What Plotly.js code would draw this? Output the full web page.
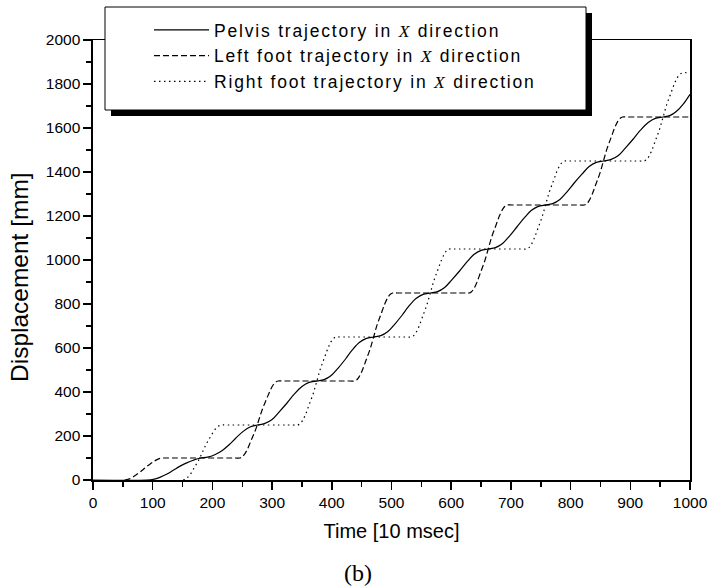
<!DOCTYPE html>
<html>
<head>
<meta charset="utf-8">
<script src="https://cdn.plot.ly/plotly-3.0.1.min.js"></script>
<style>
  html, body { margin: 0; padding: 0; background: #ffffff; }
  #chart { width: 711px; height: 588px; }
</style>
</head>
<body>
<div id="chart"></div>
<script>
// Time [10 msec] and displacement [mm] values
const pelvisTime = [0, 90, 101, 112, 124, 135, 146, 157, 168, 180,
  192, 204, 216, 228, 239, 251, 263, 275,
  287, 300, 312, 325, 337, 350, 362, 375,
  387, 399, 411, 423, 434, 446, 458, 470,
  482, 494, 506, 518, 529, 541, 553, 565,
  577, 589, 601, 614, 626, 638, 650, 662,
  674, 686, 698, 710, 722, 734, 746, 758,
  770, 782, 794, 806, 819, 831, 843, 855,
  867, 880, 892, 905, 917, 930, 942, 955,
  966, 977, 989, 1000];
const pelvisX = [0, 0, 3, 12, 27, 45, 63, 78, 90, 100,
  104, 115, 133, 160, 190, 220, 241, 250,
  256, 275, 310, 350, 390, 425, 444, 450,
  456, 475, 510, 550, 590, 625, 644, 650,
  656, 675, 710, 750, 790, 825, 844, 850,
  856, 875, 910, 950, 990, 1025, 1044, 1050,
  1056, 1075, 1110, 1150, 1190, 1225, 1244, 1250,
  1256, 1275, 1310, 1350, 1390, 1425, 1444, 1450,
  1456, 1475, 1510, 1550, 1590, 1625, 1644, 1650,
  1656, 1675, 1710, 1753];

const leftTime = [
  53, 57, 61, 66, 72, 79, 85, 91, 98, 104, 109, 113, 117, 125,
  238, 246, 250, 254, 259, 265, 272, 278, 284, 291, 297, 302, 306, 310, 318,
  430, 438, 442, 446, 451, 457, 464, 470, 476, 483, 489, 494, 498, 502, 510,
  622, 630, 634, 638, 643, 649, 656, 662, 668, 675, 681, 686, 690, 694, 702,
  815, 823, 827, 831, 836, 842, 849, 855, 861, 868, 874, 879, 883, 887, 895,
  1000];
const leftX = [
  0, 2, 5, 12, 23, 36, 50, 64, 77, 88, 95, 99, 100, 100,
  100, 100, 105, 118, 142, 181, 226, 275, 324, 370, 408, 433, 445, 450, 450,
  450, 450, 456, 470, 498, 542, 594, 650, 706, 758, 802, 830, 844, 850, 850,
  850, 850, 856, 870, 898, 942, 994, 1050, 1106, 1158, 1202, 1230, 1244, 1250, 1250,
  1250, 1250, 1256, 1270, 1298, 1342, 1394, 1450, 1506, 1558, 1602, 1630, 1644, 1650, 1650,
  1650];

const rightTime = [
  151, 155, 159, 164, 170, 177, 183, 189, 196, 202, 207, 211, 215, 223,
  335, 343, 347, 351, 356, 362, 369, 375, 381, 388, 394, 399, 403, 407, 415,
  525, 533, 537, 541, 546, 552, 559, 565, 571, 578, 584, 589, 593, 597, 605,
  718, 726, 730, 734, 739, 745, 752, 758, 764, 771, 777, 782, 786, 790, 798,
  915, 923, 927, 931, 936, 942, 949, 955, 961, 968, 974, 979, 983, 987,
  1000];
const rightX = [
  0, 4, 13, 30, 58, 90, 125, 160, 193, 220, 238, 246, 250, 250,
  250, 250, 256, 270, 298, 342, 394, 450, 506, 558, 602, 630, 644, 650, 650,
  650, 650, 656, 670, 698, 742, 794, 850, 906, 958, 1002, 1030, 1044, 1050, 1050,
  1050, 1050, 1056, 1070, 1098, 1142, 1194, 1250, 1306, 1358, 1402, 1430, 1444, 1450, 1450,
  1450, 1450, 1456, 1470, 1498, 1542, 1594, 1650, 1706, 1758, 1802, 1830, 1844, 1850,
  1852];

const X_ITALIC = '<span style="font-family:Liberation Serif;font-style:italic">X</span>';
const seriesNames = [
  'Pelvis trajectory in ' + X_ITALIC + ' direction',
  'Left foot trajectory in ' + X_ITALIC + ' direction',
  'Right foot trajectory in ' + X_ITALIC + ' direction'
];
const wide = s => '<span style="letter-spacing:1.8px">' + s + '</span>';

const xTickVals = [0, 100, 200, 300, 400, 500, 600, 700, 800, 900, 1000];
const yTickVals = [0, 200, 400, 600, 800, 1000, 1200, 1400, 1600, 1800, 2000];

const FONT = 'Liberation Sans, Arial, sans-serif';

const traces = [
  { x: pelvisTime, y: pelvisX, name: wide(seriesNames[0]), mode: 'lines',
    line: { color: '#000000', width: 1.2, shape: 'spline', smoothing: 1 } },
  { x: leftTime, y: leftX, name: wide(seriesNames[1]), mode: 'lines',
    line: { color: '#000000', width: 1.2, dash: '6px,3px', shape: 'spline', smoothing: 1 } },
  { x: rightTime, y: rightX, name: wide(seriesNames[2]), mode: 'lines',
    line: { color: '#000000', width: 1.2, dash: '1.5px,3.5px', shape: 'spline', smoothing: 1 } }
];

const px2x = p => (p - 93) / 597;
const px2y = p => (480 - p) / 440;

const layout = {
  width: 711, height: 588,
  margin: { l: 93, r: 21, t: 40, b: 108, pad: 0 },
  paper_bgcolor: '#ffffff', plot_bgcolor: '#ffffff',
  font: { family: FONT, color: '#000000', size: 15 },
  showlegend: true,
  legend: {
    x: px2x(149), y: px2y(12), xanchor: 'left', yanchor: 'top',
    bgcolor: 'rgba(0,0,0,0)', borderwidth: 0,
    font: { family: FONT, size: 17.5, color: '#000000' },
    itemwidth: 55, tracegroupgap: 0
  },
  xaxis: {
    range: [0, 1000], tickvals: xTickVals, ticktext: xTickVals.map(String),
    ticks: 'outside', ticklen: 8, tickwidth: 1.5, tickcolor: '#000000',
    minor: { dtick: 50, ticks: 'outside', ticklen: 5, tickwidth: 1.5, tickcolor: '#000000', showgrid: false },
    showline: true, linewidth: 1.5, linecolor: '#000000', mirror: true,
    showgrid: false, zeroline: false,
    tickfont: { family: FONT, size: 15.5, color: '#000000' },
    title: { text: 'Time [10 msec]', font: { family: FONT, size: 20, color: '#000000' }, standoff: 14 }
  },
  yaxis: {
    range: [0, 2000], tickvals: yTickVals, ticktext: yTickVals.map(String),
    ticks: 'outside', ticklen: 8, tickwidth: 1.5, tickcolor: '#000000',
    minor: { dtick: 100, ticks: 'outside', ticklen: 5, tickwidth: 1.5, tickcolor: '#000000', showgrid: false },
    showline: true, linewidth: 1.6, linecolor: '#000000', mirror: true,
    showgrid: false, zeroline: false,
    tickfont: { family: FONT, size: 15.5, color: '#000000' }
  },
  shapes: [
    { type: 'rect', xref: 'paper', yref: 'paper', layer: 'above',
      x0: px2x(111), x1: px2x(592), y0: px2y(116), y1: px2y(13),
      fillcolor: '#000000', line: { width: 0 } },
    { type: 'rect', xref: 'paper', yref: 'paper', layer: 'above',
      x0: px2x(105), x1: px2x(586), y0: px2y(110), y1: px2y(7),
      fillcolor: '#ffffff', line: { width: 1, color: '#000000' } }
  ],
  annotations: [
    { text: 'Displacement [mm]', xref: 'paper', yref: 'paper',
      x: px2x(19), y: px2y(277), textangle: -90, showarrow: false,
      xanchor: 'center', yanchor: 'middle',
      font: { family: FONT, size: 24.5, color: '#000000' } },
    { text: '(b)', xref: 'paper', yref: 'paper',
      x: px2x(358), y: px2y(573), showarrow: false,
      xanchor: 'center', yanchor: 'middle',
      font: { family: 'Liberation Serif, Times New Roman, serif', size: 24, color: '#000000' } }
  ]
};

Plotly.newPlot('chart', traces, layout, { displayModeBar: false, staticPlot: true });
</script>
</body>
</html>
